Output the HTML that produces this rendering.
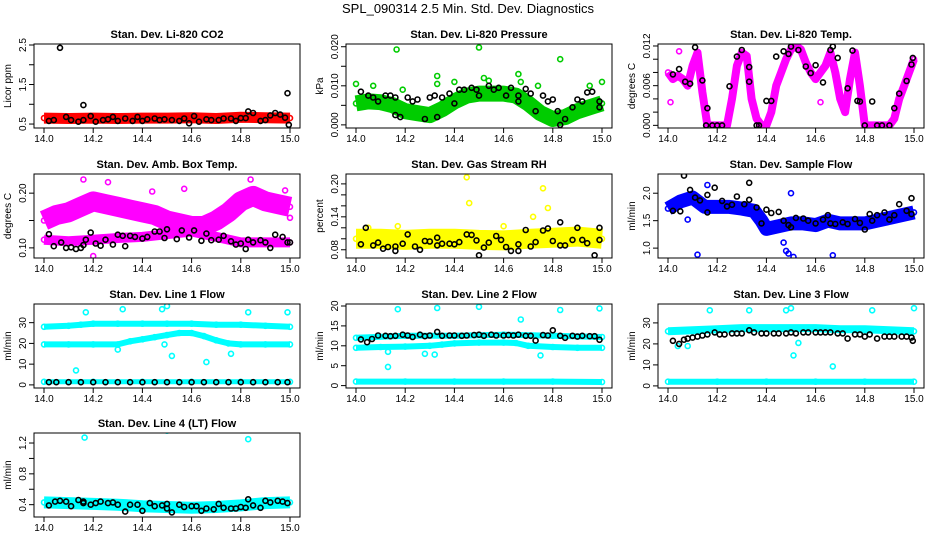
<!DOCTYPE html>
<html><head><meta charset="utf-8"><style>
html,body{margin:0;padding:0;background:#fff;}
svg{display:block;font-family:"Liberation Sans",Arial,sans-serif;}
</style></head><body>
<svg id="chart" width="936" height="540" viewBox="0 0 936 540">
<text x="468" y="13" text-anchor="middle" font-size="13">SPL_090314  2.5 Min. Std. Dev. Diagnostics</text>
</svg>
<script>
// ---------- data (time axis in fractional day units) ----------
const xTicks = [14.0, 14.2, 14.4, 14.6, 14.8, 15.0];

// Panel 1: CO2
const co2BandX = [14.0,14.1,14.2,14.3,14.4,14.5,14.6,14.7,14.8,14.9,15.0];
const co2BandY = [0.65,0.64,0.65,0.64,0.65,0.65,0.66,0.64,0.67,0.66,0.65];
const co2BlackX = [14.02,14.04,14.065,14.09,14.11,14.14,14.16,14.16,14.19,14.21,14.24,14.26,14.28,14.30,14.33,14.36,14.38,14.40,14.42,14.45,14.47,14.49,14.52,14.55,14.57,14.59,14.61,14.63,14.66,14.68,14.71,14.73,14.76,14.78,14.80,14.82,14.83,14.85,14.88,14.90,14.92,14.94,14.96,14.98,14.99,14.995];
const co2BlackY = [0.58,0.6,2.43,0.68,0.6,0.56,0.6,0.98,0.7,0.56,0.6,0.62,0.68,0.58,0.64,0.58,0.68,0.58,0.62,0.64,0.6,0.62,0.6,0.58,0.64,0.52,0.7,0.56,0.62,0.6,0.6,0.64,0.64,0.58,0.65,0.65,0.82,0.78,0.58,0.6,0.72,0.78,0.74,0.66,1.28,0.48];

// Panel 2: Pressure
const prBandX = [14.0,14.05,14.1,14.15,14.2,14.25,14.3,14.35,14.4,14.45,14.5,14.55,14.6,14.65,14.7,14.75,14.8,14.85,14.9,14.95,15.0];
const prBandY = [0.0055,0.006,0.0058,0.005,0.0035,0.003,0.0025,0.004,0.006,0.0075,0.008,0.008,0.008,0.0075,0.0055,0.003,0.0015,0.002,0.0035,0.0045,0.0055];
const prBlackX = [14.02,14.05,14.07,14.09,14.12,14.14,14.16,14.16,14.18,14.21,14.23,14.25,14.28,14.3,14.32,14.33,14.35,14.38,14.4,14.42,14.44,14.47,14.49,14.5,14.54,14.56,14.58,14.61,14.63,14.66,14.66,14.69,14.71,14.73,14.76,14.78,14.80,14.82,14.83,14.85,14.88,14.9,14.92,14.94,14.96,14.99,14.99];
const prBlackY = [0.0085,0.0075,0.007,0.006,0.0075,0.0075,0.007,0.0025,0.002,0.007,0.006,0.0065,0.0015,0.007,0.0075,0.002,0.007,0.008,0.0055,0.009,0.009,0.0095,0.009,0.0075,0.01,0.009,0.0095,0.0075,0.0095,0.0075,0.006,0.0092,0.008,0.0035,0.0075,0.006,0.0065,0.0035,0.0,0.0015,0.0045,0.0065,0.006,0.0083,0.0085,0.006,0.0045];
const prOutX = [14.0,14.07,14.165,14.19,14.33,14.33,14.4,14.5,14.52,14.54,14.66,14.67,14.74,14.83,14.95,15.0];
const prOutY = [0.0105,0.01,0.0193,0.009,0.0125,0.0105,0.011,0.0198,0.012,0.0113,0.013,0.011,0.01,0.0168,0.01,0.011];

// Panel 3: Li-820 Temp
const tpBandX = [14.0,14.02,14.04,14.06,14.08,14.1,14.12,14.14,14.16,14.18,14.2,14.22,14.24,14.26,14.28,14.3,14.32,14.34,14.36,14.38,14.4,14.42,14.44,14.46,14.48,14.5,14.52,14.54,14.56,14.58,14.6,14.62,14.64,14.66,14.68,14.7,14.72,14.74,14.76,14.78,14.8,14.82,14.84,14.86,14.88,14.9,14.92,14.94,14.96,14.98,15.0];
const tpBandY = [0.008,0.007,0.0075,0.007,0.006,0.009,0.011,0.005,0.0,0.0,0.0,0.0,0.0,0.004,0.009,0.011,0.0105,0.004,0.001,0.0,0.0,0.002,0.006,0.008,0.01,0.0115,0.012,0.0115,0.0095,0.008,0.007,0.008,0.009,0.011,0.008,0.004,0.002,0.007,0.011,0.006,0.0,0.0,0.0,0.0,0.0,0.0,0.001,0.004,0.006,0.008,0.01];
const tpBlackX = [14.02,14.045,14.07,14.09,14.11,14.14,14.155,14.16,14.18,14.2,14.22,14.25,14.28,14.30,14.33,14.33,14.36,14.37,14.4,14.42,14.44,14.47,14.49,14.5,14.53,14.56,14.58,14.6,14.63,14.66,14.67,14.69,14.73,14.75,14.77,14.78,14.8,14.83,14.85,14.87,14.9,14.92,14.94,14.97,14.99,14.995];
const tpBlackY = [0.0077,0.0085,0.0066,0.0063,0.0118,0.0068,0.0,0.0026,0.0,0.0,0.0,0.0059,0.0104,0.0114,0.0088,0.0066,0.0,0.0,0.0037,0.0037,0.0104,0.0112,0.0108,0.0119,0.0114,0.0089,0.0079,0.0091,0.0065,0.0114,0.0119,0.0102,0.0056,0.0113,0.0037,0.0036,0.0,0.0036,0.0,0.0,0.0,0.0026,0.0048,0.0067,0.0092,0.0102];
const tpOutX = [14.01,14.045,14.13,14.62];
const tpOutY = [0.0035,0.0112,0.0128,0.0035];

// Panel 4: Amb box temp
const abUpX = [14.0,14.05,14.1,14.15,14.2,14.25,14.3,14.35,14.4,14.45,14.5,14.55,14.6,14.65,14.7,14.75,14.8,14.85,14.9,14.95,15.0];
const abUpY = [0.15,0.16,0.165,0.175,0.185,0.18,0.175,0.17,0.165,0.16,0.15,0.145,0.14,0.14,0.15,0.165,0.185,0.195,0.185,0.18,0.175];
const abLowX = [14.0,14.1,14.2,14.3,14.4,14.5,14.6,14.7,14.8,14.9,15.0];
const abLowY = [0.115,0.112,0.115,0.118,0.12,0.125,0.13,0.12,0.11,0.11,0.11];
const abBlackX = [14.02,14.04,14.07,14.09,14.11,14.13,14.15,14.16,14.17,14.19,14.21,14.23,14.25,14.28,14.3,14.32,14.33,14.35,14.37,14.4,14.42,14.45,14.47,14.49,14.5,14.54,14.56,14.59,14.61,14.64,14.66,14.68,14.71,14.73,14.76,14.78,14.8,14.82,14.83,14.85,14.88,14.9,14.92,14.94,14.97,14.99,15.0];
const abBlackY = [0.125,0.103,0.11,0.1,0.101,0.098,0.1,0.105,0.115,0.128,0.108,0.104,0.115,0.106,0.124,0.122,0.103,0.122,0.12,0.117,0.12,0.13,0.13,0.118,0.134,0.116,0.132,0.119,0.132,0.113,0.126,0.114,0.115,0.122,0.112,0.106,0.108,0.098,0.115,0.11,0.114,0.11,0.1,0.124,0.12,0.11,0.11];
const abOutX = [14.16,14.26,14.2,14.57,14.84,14.98,15.0,14.44];
const abOutY = [0.225,0.22,0.085,0.208,0.225,0.205,0.155,0.203];

// Panel 5: RH
const rhBandX = [14.0,14.1,14.2,14.3,14.4,14.5,14.6,14.7,14.8,14.9,15.0];
const rhBandY = [0.1,0.1,0.098,0.1,0.1,0.098,0.097,0.1,0.102,0.104,0.1];
const rhBlackX = [14.02,14.04,14.07,14.09,14.11,14.13,14.16,14.16,14.19,14.21,14.24,14.26,14.28,14.3,14.33,14.33,14.35,14.38,14.4,14.42,14.45,14.47,14.49,14.5,14.52,14.54,14.57,14.59,14.61,14.63,14.66,14.66,14.69,14.71,14.73,14.76,14.78,14.8,14.83,14.83,14.85,14.88,14.9,14.92,14.94,14.97,14.99,14.99];
const rhBlackY = [0.09,0.12,0.088,0.093,0.082,0.085,0.086,0.078,0.091,0.108,0.086,0.08,0.096,0.095,0.088,0.102,0.091,0.091,0.09,0.094,0.108,0.107,0.097,0.07,0.084,0.093,0.105,0.098,0.085,0.078,0.09,0.078,0.116,0.086,0.094,0.115,0.119,0.096,0.088,0.13,0.088,0.098,0.12,0.098,0.092,0.07,0.12,0.098];
const rhOutX = [14.45,14.46,14.76,14.78,14.05,14.72,14.17,14.6];
const rhOutY = [0.212,0.165,0.192,0.156,0.12,0.14,0.123,0.123];

// Panel 6: Sample flow
const sfBandX = [14.0,14.05,14.1,14.15,14.2,14.25,14.3,14.35,14.38,14.4,14.45,14.5,14.55,14.6,14.65,14.7,14.75,14.8,14.85,14.9,14.95,15.0];
const sfBandY = [1.72,1.85,1.92,1.75,1.75,1.75,1.72,1.68,1.5,1.35,1.4,1.45,1.45,1.42,1.5,1.45,1.45,1.45,1.5,1.55,1.6,1.65];
const sfBlackX = [14.02,14.05,14.065,14.09,14.11,14.13,14.16,14.16,14.19,14.22,14.24,14.26,14.28,14.31,14.33,14.33,14.36,14.38,14.4,14.42,14.45,14.47,14.49,14.5,14.52,14.55,14.57,14.6,14.63,14.65,14.66,14.68,14.71,14.73,14.76,14.78,14.8,14.82,14.83,14.85,14.88,14.9,14.92,14.94,14.97,14.99,14.99];
const sfBlackY = [1.68,1.67,2.32,2.06,1.92,1.87,1.97,1.65,2.1,1.86,1.76,1.79,1.94,1.8,1.88,2.19,1.74,1.45,1.7,1.64,1.66,1.5,1.42,1.38,1.55,1.54,1.5,1.45,1.52,1.6,1.45,1.44,1.47,1.44,1.53,1.46,1.34,1.62,1.5,1.6,1.65,1.52,1.6,1.8,1.68,1.91,1.62];
const sfOutX = [14.12,14.16,14.48,14.49,14.51,14.67,14.5,14.08,14.47];
const sfOutY = [0.88,2.15,0.95,0.9,0.84,0.87,2.0,1.52,1.1];

// Panel 7: Line 1 flow
const l1UpX = [14.0,14.1,14.15,14.2,14.3,14.4,14.5,14.6,14.7,14.8,14.9,15.0];
const l1UpY = [28,28.5,29,29.5,29.5,29.5,29.5,29.5,29,29,28.5,28];
const l1MidX = [14.0,14.1,14.2,14.3,14.35,14.4,14.45,14.5,14.55,14.6,14.65,14.7,14.75,14.8,14.9,15.0];
const l1MidY = [19.5,19.5,19.5,19.5,21,22,23,24,25,25,23.5,21.5,20,19.5,19.5,19.5];
const l1LowX = [14.0,14.2,14.4,14.6,14.8,15.0];
const l1LowY = [1.5,1.5,1.5,1.5,1.5,1.5];
const l1BlackX = [14.02,14.05,14.1,14.15,14.2,14.25,14.3,14.35,14.4,14.45,14.5,14.55,14.6,14.65,14.7,14.75,14.8,14.85,14.9,14.95,14.99];
const l1BlackY = [1.3,1.3,1.3,1.3,1.3,1.3,1.3,1.3,1.3,1.3,1.3,1.3,1.3,1.3,1.3,1.3,1.3,1.3,1.3,1.3,1.3];
const l1OutX = [14.13,14.17,14.32,14.48,14.5,14.52,14.66,14.76,14.83,14.99,14.3,14.49];
const l1OutY = [7,35,36.5,36.5,38,14,11,15,35,35,17,19.5];

// Panel 8: Line 2 flow
const l2UpX = [14.0,14.2,14.4,14.6,14.8,15.0];
const l2UpY = [12,12.5,12.5,12.8,12.5,12.2];
const l2MidX = [14.0,14.1,14.2,14.3,14.35,14.4,14.5,14.6,14.65,14.7,14.8,14.9,15.0];
const l2MidY = [9.5,9.7,9.8,10,10.3,10.6,10.8,10.8,10.7,10,9.7,9.5,9.5];
const l2LowX = [14.0,14.2,14.4,14.6,14.8,15.0];
const l2LowY = [1,1,1,1,1,0.9];
const l2BlackX = [14.02,14.045,14.065,14.09,14.12,14.14,14.16,14.19,14.21,14.23,14.26,14.28,14.3,14.33,14.35,14.38,14.4,14.43,14.45,14.48,14.5,14.52,14.55,14.57,14.6,14.62,14.64,14.66,14.69,14.71,14.73,14.76,14.78,14.8,14.83,14.85,14.88,14.9,14.92,14.95,14.97,14.99];
const l2BlackY = [11.6,10.9,11.7,12.6,12.5,12.4,12.5,12.8,12.6,12.2,12.8,12.4,12.6,13.5,12.5,12.6,12.6,12.5,12.6,12.7,12.8,12.5,12.8,12.6,12.6,12.7,12.6,12.8,12.5,12.5,11.3,12.7,12.6,13.9,12.5,12,12.5,12.3,12.5,12.4,12.4,11.5];
const l2OutX = [14.13,14.17,14.33,14.5,14.67,14.75,14.83,14.99,14.13,14.28,14.32];
const l2OutY = [4.7,19.2,19.5,19.8,16.6,7.6,19,19.4,8.5,8,7.8];

// Panel 9: Line 3 flow
const l3UpX = [14.0,14.1,14.2,14.3,14.4,14.5,14.6,14.7,14.8,14.9,15.0];
const l3UpY = [26,26.5,27,27.5,27.5,27.5,27.5,27,27,26.5,26];
const l3LowX = [14.0,14.2,14.4,14.6,14.8,15.0];
const l3LowY = [2,2,2,2,2,2];
const l3BlackX = [14.02,14.045,14.065,14.08,14.1,14.12,14.14,14.16,14.19,14.21,14.23,14.26,14.28,14.3,14.33,14.35,14.38,14.4,14.43,14.45,14.48,14.5,14.52,14.55,14.57,14.6,14.62,14.64,14.66,14.69,14.71,14.73,14.76,14.78,14.8,14.82,14.85,14.88,14.9,14.92,14.95,14.97,14.99,14.995];
const l3BlackY = [21.5,20,22,22.5,23,23.5,24,24.5,25.5,24.5,24.5,25,25,25,26.5,25.5,25,25,25,25,25,25.5,25,25.5,25.5,25.5,25.5,25.5,25.5,25,25,22.5,24.5,24.5,23.5,24.5,22.5,23.5,23.5,23.5,23.5,23.5,23,21.5];
const l3OutX = [14.17,14.33,14.48,14.5,14.51,14.53,14.67,14.83,15.0,14.04,14.08];
const l3OutY = [36,36,36,37,14.5,20.5,9.3,36,37,19,19];

// Panel 10: Line 4 flow
const l4BandX = [14.0,14.1,14.2,14.3,14.4,14.5,14.6,14.7,14.8,14.9,15.0];
const l4BandY = [0.43,0.42,0.41,0.4,0.38,0.37,0.36,0.37,0.39,0.42,0.43];
const l4BlackX = [14.02,14.045,14.065,14.09,14.11,14.14,14.16,14.16,14.19,14.21,14.23,14.26,14.28,14.3,14.33,14.35,14.38,14.4,14.43,14.45,14.48,14.5,14.5,14.52,14.55,14.57,14.6,14.62,14.64,14.66,14.69,14.71,14.73,14.76,14.78,14.8,14.82,14.83,14.85,14.88,14.9,14.92,14.95,14.97,14.99];
const l4BlackY = [0.39,0.44,0.45,0.44,0.38,0.46,0.42,0.44,0.4,0.42,0.44,0.42,0.43,0.4,0.31,0.4,0.4,0.32,0.42,0.38,0.39,0.41,0.35,0.3,0.4,0.37,0.38,0.38,0.32,0.35,0.34,0.41,0.36,0.35,0.35,0.37,0.36,0.47,0.39,0.36,0.45,0.43,0.45,0.44,0.42];
const l4OutX = [14.165,14.5,14.83];
const l4OutY = [1.27,1.36,1.25];

// ---------- rendering ----------
const svg = document.getElementById('chart');
const NS = 'http://www.w3.org/2000/svg';
function mk(tag, attrs, parent){
  const e = document.createElementNS(NS, tag);
  for (const k in attrs) e.setAttribute(k, attrs[k]);
  parent.appendChild(e);
  return e;
}
const BOX_W = 266, BOX_H = 84;

function panel(cfg){
  const g = mk('g', {}, svg);
  
  
  const L = cfg.left, T = cfg.top;
  const xs = v => L + 10 + (v - 14) * (BOX_W - 20);
  const ys = v => T + BOX_H - (v - cfg.ymin) / (cfg.ymax - cfg.ymin) * BOX_H;
  const cid = 'c' + cfg.name;
  const cp = mk('clipPath', {id: cid}, g);
  mk('rect', {x: L, y: T, width: BOX_W, height: BOX_H}, cp);
  const plot = mk('g', {'clip-path': 'url(#' + cid + ')'}, g);
  
  
  cfg.series.forEach(s => {
    const sg = mk('g', {}, plot);
    
    
    if (s.band) {
      const pts = s.x.map((v, i) => xs(v).toFixed(1) + ',' + ys(s.y[i]).toFixed(1)).join(' ');
      const pl = mk('polyline', {points: pts, fill: 'none', stroke: s.color, 'stroke-width': s.band, 'stroke-linejoin': 'round', 'stroke-linecap': 'butt'}, sg);
      
      
    }
    s.x.forEach((v, i) => {
      const c = mk('circle', {cx: xs(v).toFixed(1), cy: ys(s.y[i]).toFixed(1), r: 2.5, fill: 'none', stroke: s.color, 'stroke-width': 1.6}, sg);
      
      
    });
  });
  const bx = mk('rect', {x: L, y: T, width: BOX_W, height: BOX_H, fill: 'none', stroke: '#000', 'stroke-width': 1}, g);
  
  
  const t = mk('text', {x: L + BOX_W / 2, y: T - 6, 'text-anchor': 'middle', 'font-size': 11, 'font-weight': 'bold'}, g);
  t.textContent = cfg.title;
  
  
  const xa = mk('g', {}, g);
  
  
  xTicks.forEach(v => {
    mk('line', {x1: xs(v), x2: xs(v), y1: T + BOX_H, y2: T + BOX_H + 5, stroke: '#000'}, xa);
    const tl = mk('text', {x: xs(v), y: T + BOX_H + 14, 'text-anchor': 'middle', 'font-size': 10}, xa);
    tl.textContent = v.toFixed(1);
    
    
  });
  const ya = mk('g', {}, g);
  
  
  cfg.yticks.forEach(v => {
    mk('line', {x1: L - 5, x2: L, y1: ys(v), y2: ys(v), stroke: '#000'}, ya);
  });
  cfg.ylabels.forEach(lb => {
    const y = ys(parseFloat(lb));
    const tl = mk('text', {x: L - 8, y: y, 'text-anchor': 'middle', 'font-size': 10, transform: 'rotate(-90 ' + (L - 8) + ' ' + y + ')'}, ya);
    tl.textContent = lb;
    
    
  });
  const yt = mk('text', {x: L - 23, y: T + BOX_H / 2, 'text-anchor': 'middle', 'font-size': 10, transform: 'rotate(-90 ' + (L - 23) + ' ' + (T + BOX_H / 2) + ')'}, ya);
  yt.textContent = cfg.ytitle;
  
  
}

const cols = [34, 346, 658], rows = [44, 174, 304, 433];
const CY = '#00ffff', MG = '#ff00ff', BK = '#000000';

panel({name:'co2-panel', title:'Stan. Dev. Li-820 CO2', ytitle:'Licor ppm', left:cols[0], top:rows[0], ymin:0.40, ymax:2.525,
  yticks:[0.5,1.0,1.5,2.0,2.5], ylabels:['0.5','1.5','2.5'],
  series:[{name:'co2-series', color:'#ff0000', x:co2BandX, y:co2BandY, band:11},
          {name:'co2-reference', color:BK, x:co2BlackX, y:co2BlackY}]});
panel({name:'pressure-panel', title:'Stan. Dev. Li-820 Pressure', ytitle:'kPa', left:cols[1], top:rows[0], ymin:-0.0008, ymax:0.0207,
  yticks:[0,0.005,0.01,0.015,0.02], ylabels:['0.000','0.010','0.020'],
  series:[{name:'pressure-series', color:'#00cc00', x:prBandX, y:prBandY, band:16},
          {name:'pressure-outliers', color:'#00cc00', x:prOutX, y:prOutY},
          {name:'pressure-reference', color:BK, x:prBlackX, y:prBlackY}]});
panel({name:'li820-temp-panel', title:'Stan. Dev. Li-820 Temp.', ytitle:'degrees C', left:cols[2], top:rows[0], ymin:-0.0004, ymax:0.0123,
  yticks:[0,0.002,0.004,0.006,0.008,0.01,0.012], ylabels:['0.000','0.006','0.012'],
  series:[{name:'temp-series', color:MG, x:tpBandX, y:tpBandY, band:8},
          {name:'temp-outliers', color:MG, x:tpOutX, y:tpOutY},
          {name:'temp-reference', color:BK, x:tpBlackX, y:tpBlackY}]});
panel({name:'amb-box-temp-panel', title:'Stan. Dev. Amb. Box Temp.', ytitle:'degrees C', left:cols[0], top:rows[1], ymin:0.0815, ymax:0.235,
  yticks:[0.10,0.15,0.20], ylabels:['0.10','0.20'],
  series:[{name:'amb-upper', color:MG, x:abUpX, y:abUpY, band:20},
          {name:'amb-lower', color:MG, x:abLowX, y:abLowY, band:10},
          {name:'amb-outliers', color:MG, x:abOutX, y:abOutY},
          {name:'amb-reference', color:BK, x:abBlackX, y:abBlackY}]});
panel({name:'rh-panel', title:'Stan. Dev. Gas Stream RH', ytitle:'percent', left:cols[1], top:rows[1], ymin:0.065, ymax:0.218,
  yticks:[0.08,0.10,0.12,0.14,0.16,0.18,0.20], ylabels:['0.08','0.14','0.20'],
  series:[{name:'rh-series', color:'#ffff00', x:rhBandX, y:rhBandY, band:20},
          {name:'rh-outliers', color:'#ffff00', x:rhOutX, y:rhOutY},
          {name:'rh-reference', color:BK, x:rhBlackX, y:rhBlackY}]});
panel({name:'sample-flow-panel', title:'Stan. Dev. Sample Flow', ytitle:'ml/min', left:cols[2], top:rows[1], ymin:0.82, ymax:2.35,
  yticks:[1.0,1.5,2.0], ylabels:['1.0','1.5','2.0'],
  series:[{name:'sample-flow-series', color:'#0000ff', x:sfBandX, y:sfBandY, band:14},
          {name:'sample-flow-outliers', color:'#0000ff', x:sfOutX, y:sfOutY},
          {name:'sample-flow-reference', color:BK, x:sfBlackX, y:sfBlackY}]});
panel({name:'line1-flow-panel', title:'Stan. Dev. Line 1 Flow', ytitle:'ml/min', left:cols[0], top:rows[2], ymin:-1.5, ymax:39,
  yticks:[0,10,20,30], ylabels:['0','10','20','30'],
  series:[{name:'line1-upper', color:CY, x:l1UpX, y:l1UpY, band:6},
          {name:'line1-middle', color:CY, x:l1MidX, y:l1MidY, band:6},
          {name:'line1-lower', color:CY, x:l1LowX, y:l1LowY, band:5},
          {name:'line1-outliers', color:CY, x:l1OutX, y:l1OutY},
          {name:'line1-reference', color:BK, x:l1BlackX, y:l1BlackY}]});
panel({name:'line2-flow-panel', title:'Stan. Dev. Line 2 Flow', ytitle:'ml/min', left:cols[1], top:rows[2], ymin:-0.6, ymax:20.5,
  yticks:[0,5,10,15,20], ylabels:['0','5','10','15','20'],
  series:[{name:'line2-upper', color:CY, x:l2UpX, y:l2UpY, band:6},
          {name:'line2-middle', color:CY, x:l2MidX, y:l2MidY, band:6},
          {name:'line2-lower', color:CY, x:l2LowX, y:l2LowY, band:6},
          {name:'line2-outliers', color:CY, x:l2OutX, y:l2OutY},
          {name:'line2-reference', color:BK, x:l2BlackX, y:l2BlackY}]});
panel({name:'line3-flow-panel', title:'Stan. Dev. Line 3 Flow', ytitle:'ml/min', left:cols[2], top:rows[2], ymin:-1, ymax:39,
  yticks:[0,10,20,30], ylabels:['0','10','20','30'],
  series:[{name:'line3-upper', color:CY, x:l3UpX, y:l3UpY, band:8},
          {name:'line3-lower', color:CY, x:l3LowX, y:l3LowY, band:6},
          {name:'line3-outliers', color:CY, x:l3OutX, y:l3OutY},
          {name:'line3-reference', color:BK, x:l3BlackX, y:l3BlackY}]});
panel({name:'line4-flow-panel', title:'Stan. Dev. Line 4 (LT) Flow', ytitle:'ml/min', left:cols[0], top:rows[3], ymin:0.24, ymax:1.33,
  yticks:[0.4,0.6,0.8,1.0,1.2], ylabels:['0.4','0.8','1.2'],
  series:[{name:'line4-series', color:CY, x:l4BandX, y:l4BandY, band:12},
          {name:'line4-outliers', color:CY, x:l4OutX, y:l4OutY},
          {name:'line4-reference', color:BK, x:l4BlackX, y:l4BlackY}]});
</script>
</body></html>
